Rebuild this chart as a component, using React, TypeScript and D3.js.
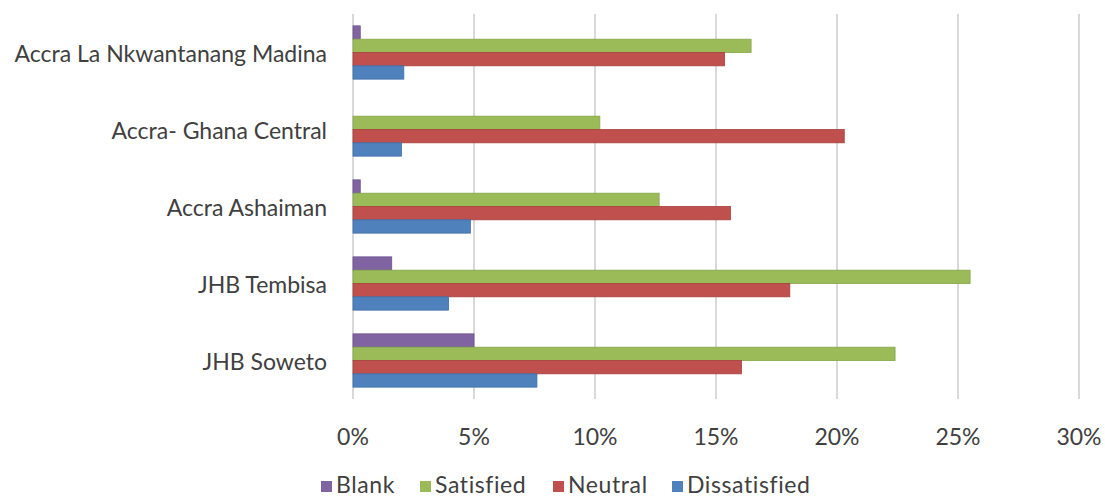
import React from "react";
import * as d3 from "d3";

// Survey responses by site (share of respondents)
const categories = [
  "Accra La Nkwantanang Madina",
  "Accra- Ghana Central",
  "Accra Ashaiman",
  "JHB Tembisa",
  "JHB Soweto",
];
const seriesNames = ["Blank", "Satisfied", "Neutral", "Dissatisfied"];
const blank = [0.3, 0, 0.3, 1.6, 5.0];
const satisfied = [16.45, 10.2, 12.65, 25.5, 22.4];
const neutral = [15.35, 20.3, 15.6, 18.05, 16.05];
const dissatisfied = [2.1, 2.0, 4.85, 3.95, 7.6];
const xTicks = [0, 5, 10, 15, 20, 25, 30];
const colors = ["#8064A2", "#9BBB59", "#C0504D", "#4F81BD"];
const strokes = ["#6c5290", "#86a548", "#a83f3c", "#3f6fa8"];

const values = [blank, satisfied, neutral, dissatisfied];

const W = 1105;
const H = 497;
const left = 353;
const right = 1079;
const top = 14;
const bottom = 399;
const font = "Lato, 'Open Sans', sans-serif";
const textColor = "#404040";

export default function App() {
  const x = d3.scaleLinear().domain([0, 30]).range([left, right]);
  const y = d3
    .scaleBand<string>()
    .domain(categories)
    .range([top, bottom])
    .paddingInner(0.308)
    .paddingOuter(0.154);
  const inner = d3
    .scaleBand<string>()
    .domain(seriesNames)
    .range([0, y.bandwidth()]);

  const legendX = [321, 420, 553, 672];

  return (
    <svg
      width={W}
      height={H}
      style={{ position: "absolute", left: 0, top: 0, background: "#fff" }}
    >
      {xTicks.map((t) => (
        <line
          key={"g" + t}
          x1={x(t)}
          x2={x(t)}
          y1={top}
          y2={bottom}
          stroke="#d9d9d9"
          strokeWidth={2}
        />
      ))}
      {categories.map((c, ci) => (
        <g key={c}>
          {seriesNames.map((s, si) => {
            const v = values[si][ci];
            if (v <= 0) return null;
            return (
              <rect
                key={s}
                x={x(0)}
                y={(y(c) as number) + (inner(s) as number)}
                width={x(v) - x(0)}
                height={inner.bandwidth()}
                fill={colors[si]}
                stroke={strokes[si]}
                strokeWidth={0.8}
              />
            );
          })}
          <text
            x={327}
            y={(y(c) as number) + y.bandwidth() / 2}
            textAnchor="end"
            dominantBaseline="central"
            fontFamily={font}
            fontSize={23}
            fill={textColor}
          >
            {c}
          </text>
        </g>
      ))}
      {xTicks.map((t) => (
        <text
          key={"t" + t}
          x={x(t)}
          y={436}
          textAnchor="middle"
          dominantBaseline="central"
          fontFamily={font}
          fontSize={23}
          fill={textColor}
        >
          {t + "%"}
        </text>
      ))}
      {seriesNames.map((s, i) => (
        <g key={"l" + s}>
          <rect x={legendX[i]} y={481} width={11} height={11} fill={colors[i]} />
          <text
            x={legendX[i] + 15}
            y={493}
            fontFamily={font}
            fontSize={23}
            letterSpacing={0.6}
            fill={textColor}
          >
            {s}
          </text>
        </g>
      ))}
    </svg>
  );
}
